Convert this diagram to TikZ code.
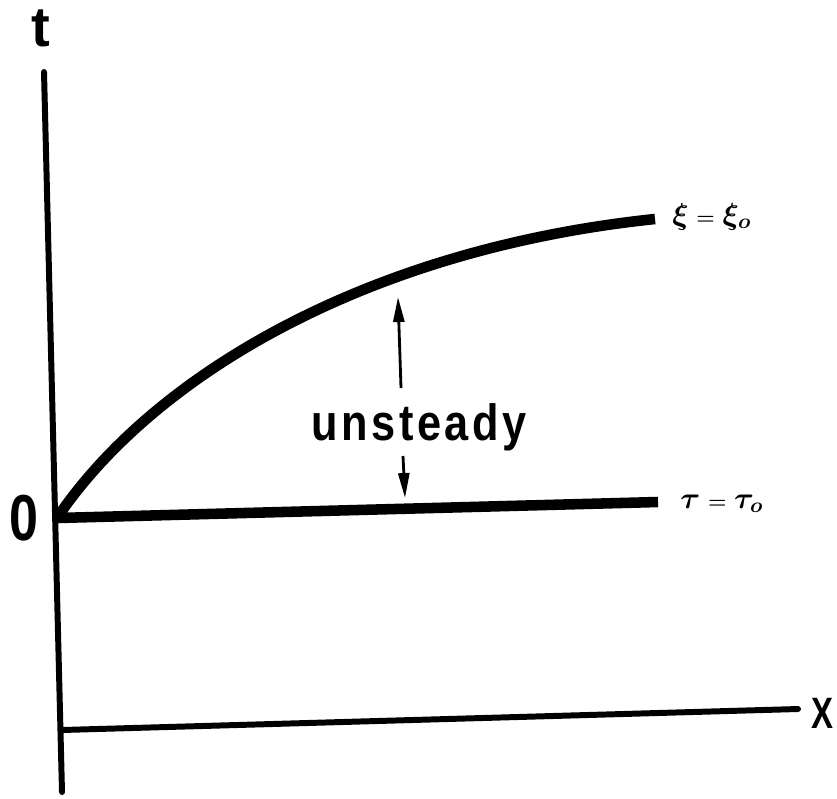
\documentclass[tikz,border=0pt]{standalone}
\usepackage{fontspec}
\setmainfont{Liberation Sans}
\usepackage{tikz}
\usetikzlibrary{arrows.meta}

\begin{document}
\begin{tikzpicture}[
    x=0.02cm, y=-0.02cm,
    axisline/.style={line width=3.4pt, line cap=round},
    thickline/.style={line width=6pt},
    arrow/.style={-{Triangle[length=0.5cm, width=0.22cm]}, line width=1.6pt},
    label/.style={inner sep=0pt, font=\bfseries},
    mathlabel/.style={inner sep=0pt, anchor=base west, font=\fontsize{18}{18}\selectfont\boldmath}
]
\useasboundingbox (0,0) rectangle (837,798);

% axes
\coordinate (ttop) at (44,72);
\coordinate (tbot) at (62,792);
\coordinate (xleft) at (62,730);
\coordinate (xright) at (798,709);
\coordinate (origin) at (57,518);

\node[label, font=\bfseries\fontsize{32}{32}\selectfont] (tlab) at (41,28) {t};
\node[label, font=\bfseries\fontsize{37}{37}\selectfont, xscale=0.8] (olab) at (24,518) {0};
\node[label, font=\bfseries\fontsize{25}{25}\selectfont, xscale=0.75] (xlab) at (822,713) {X};

\draw[axisline] (ttop) -- (tbot);
\draw[axisline] (xleft) -- (xright);

% the two curves
\coordinate (xiend) at (655,219);
\coordinate (tauend) at (658,502);
\draw[thickline] (origin) .. controls (150,380) and (360,250) .. (xiend);
\draw[thickline] (origin) -- (tauend);

\node[mathlabel] (xilab) at (672,224) {$\xi\mkern4mu{\scriptstyle=}\mkern4mu\xi_o$};
\node[mathlabel] (taulab) at (680,508) {$\tau\mkern4mu{\scriptstyle=}\mkern4mu\tau_o$};

% unsteady region
\node[label, anchor=base, xscale=0.85,
      font=\bfseries\fontsize{29}{29}\selectfont\addfontfeatures{LetterSpace=8}] (unst) at (419,440) {unsteady};
\coordinate (uptail) at (401,388);
\coordinate (uptip) at (398,297);
\coordinate (dntail) at (403,456);
\coordinate (dntip) at (405,498);
\draw[arrow] (uptail) -- (uptip);
\draw[arrow] (dntail) -- (dntip);
\end{tikzpicture}
\end{document}
